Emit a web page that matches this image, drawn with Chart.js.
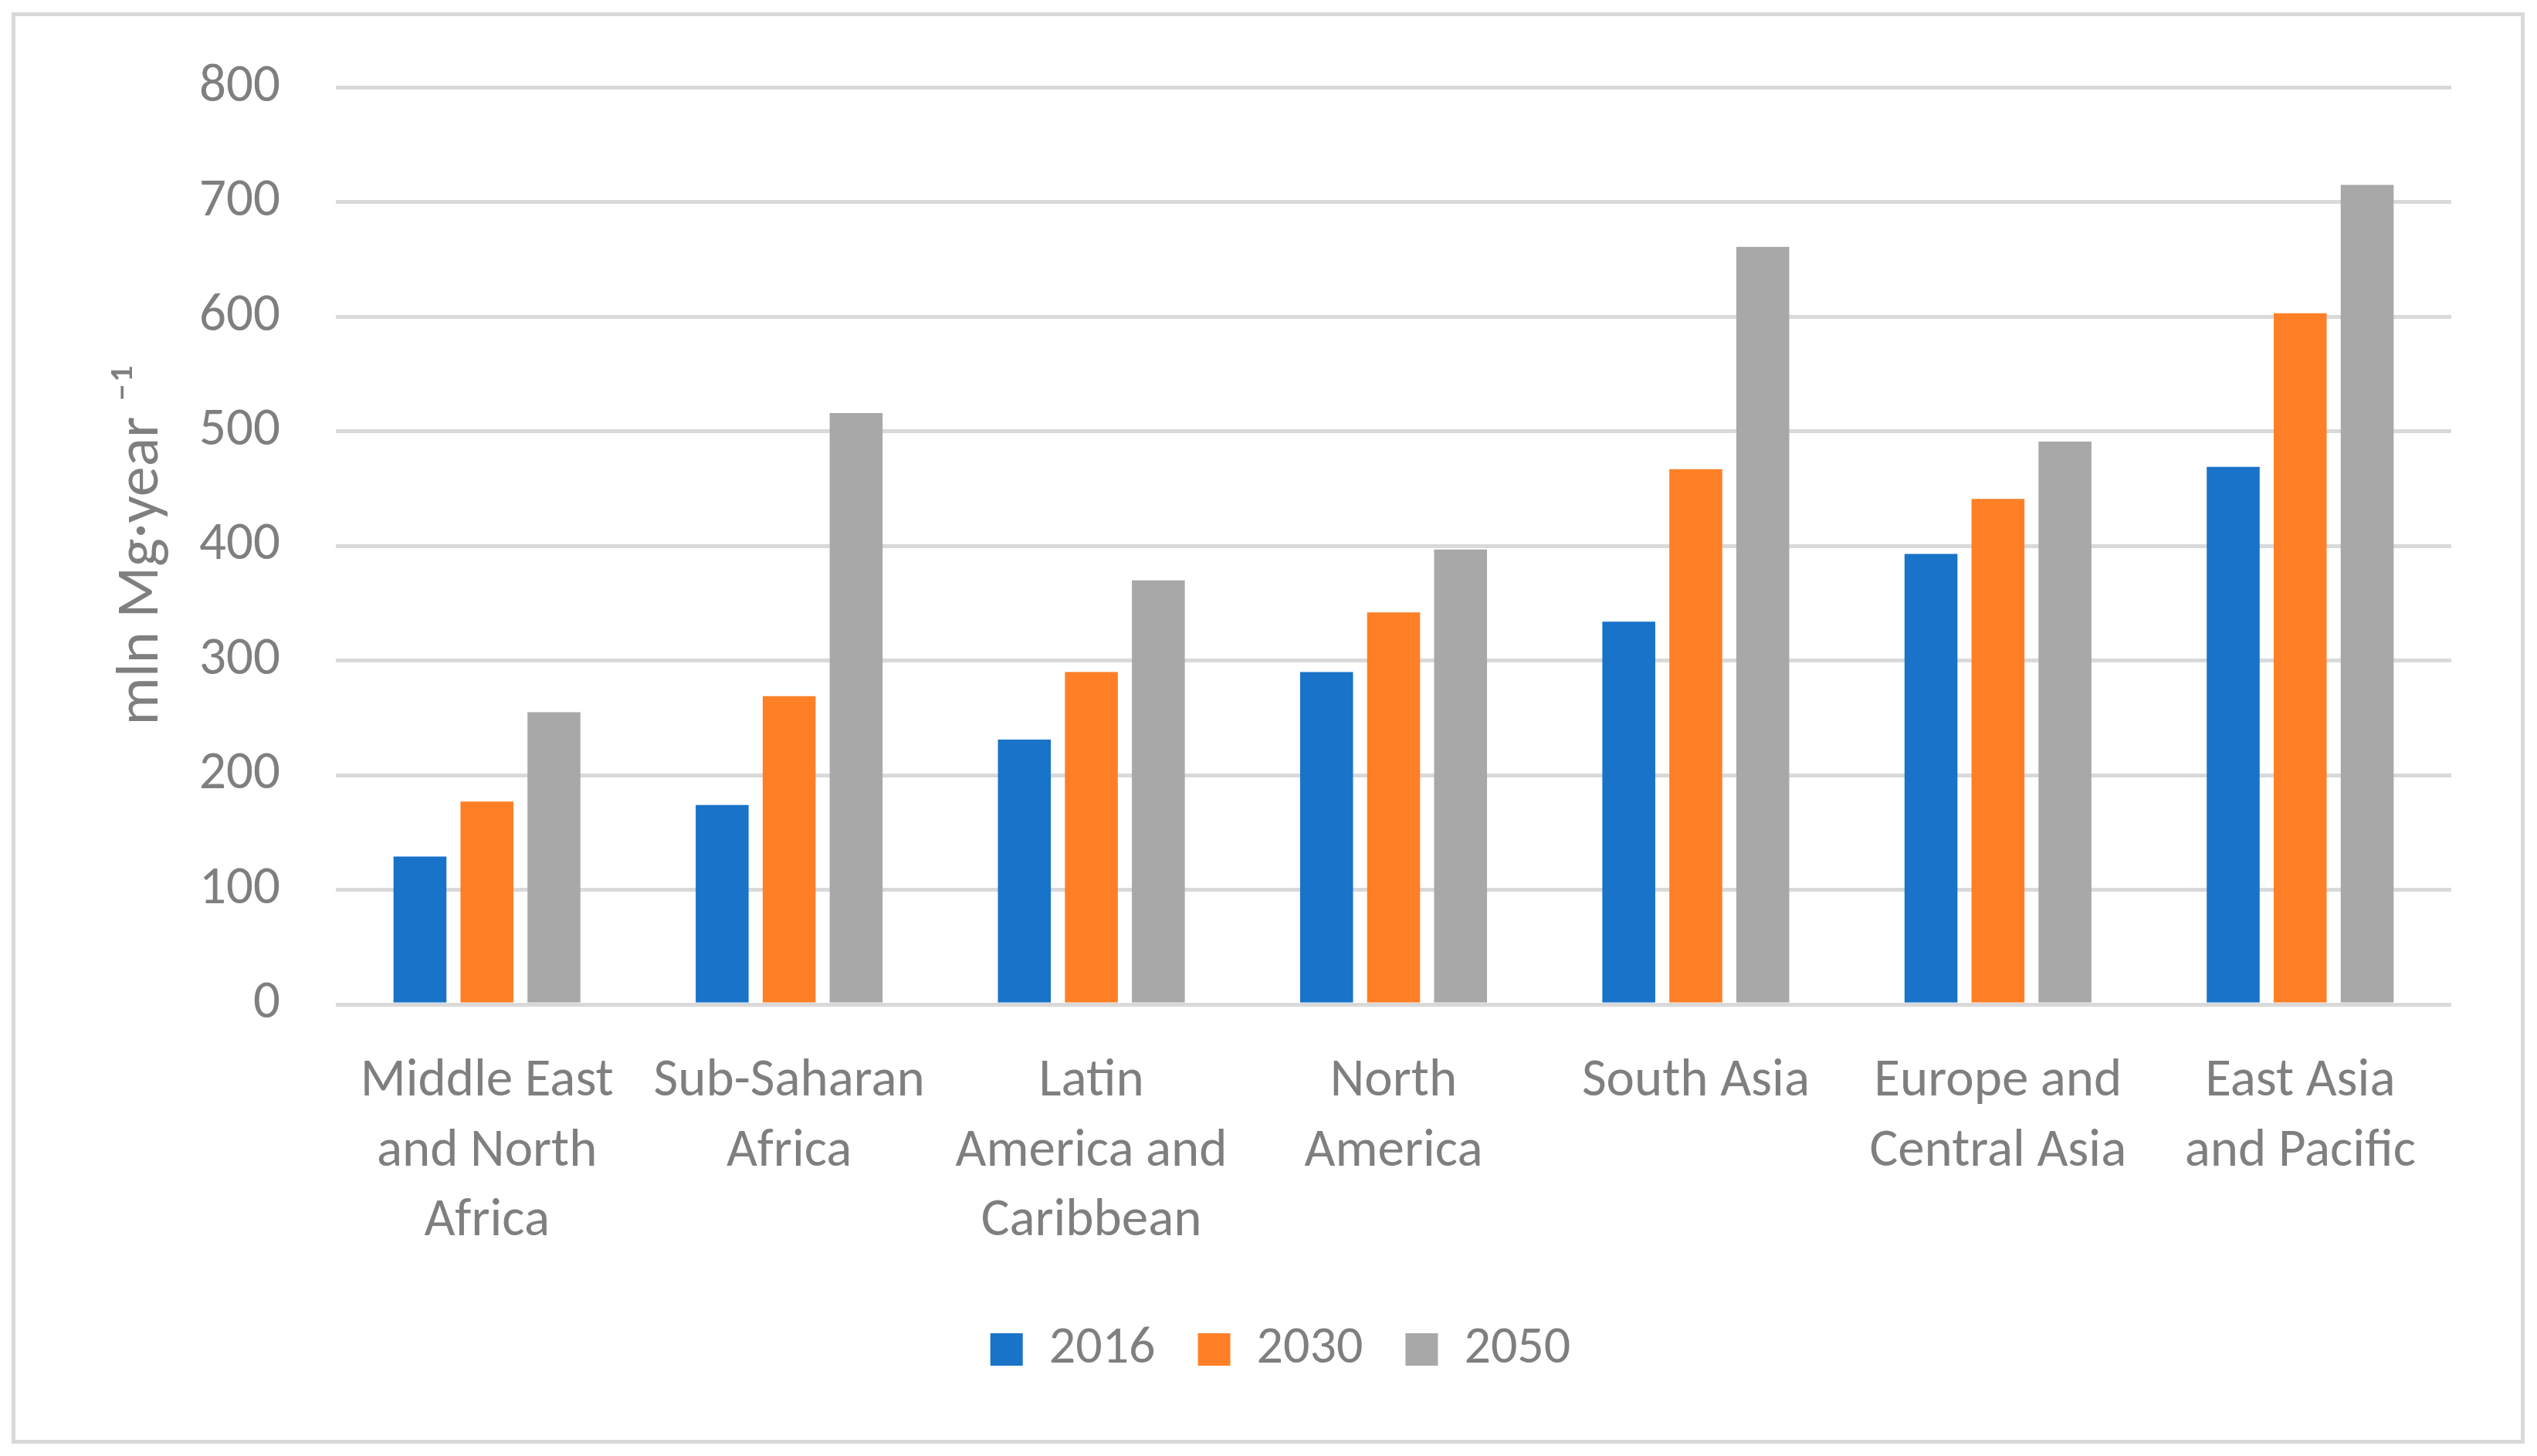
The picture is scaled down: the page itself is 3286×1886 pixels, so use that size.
<!DOCTYPE html>
<html>
<head>
<meta charset="utf-8">
<script src="https://cdn.jsdelivr.net/npm/chart.js@4.4.0/dist/chart.umd.min.js"></script>
<style>
  html, body { margin: 0; padding: 0; background: #fff; }
  #wrap { position: relative; width: 3286px; height: 1886px; }
  #frame { position: absolute; left: 15px; top: 16px; width: 3245px; height: 1844px; border: 5px solid #d9d9d9; pointer-events: none; }
</style>
</head>
<body>
<div id="wrap">
  <canvas id="waste-chart" width="3286" height="1886"></canvas>
  <div id="frame"></div>
</div>
<script>
var regions = [
  ["Middle East", "and North", "Africa"],
  ["Sub-Saharan", "Africa"],
  ["Latin", "America and", "Caribbean"],
  ["North", "America"],
  ["South Asia"],
  ["Europe and", "Central Asia"],
  ["East Asia", "and Pacific"]
];
var years = ["2016", "2030", "2050"];
var waste2016 = [129, 174, 231, 290, 334, 393, 469];
var waste2030 = [177, 269, 290, 342, 467, 441, 603];
var waste2050 = [255, 516, 370, 397, 661, 491, 715];
var yTicks = [0, 100, 200, 300, 400, 500, 600, 700, 800];

var colors = ["#1873c9", "#ff7f27", "#a8a8a8"];
var textColor = "#7f7f7f";
var fontFamily = "Carlito, Lato, sans-serif";

var series = [waste2016, waste2030, waste2050];

var ctx = document.getElementById("waste-chart").getContext("2d");
var chart = new Chart(ctx, {
  type: "bar",
  data: {
    labels: regions,
    datasets: series.map(function (vals, i) {
      return {
        label: years[i],
        data: vals,
        backgroundColor: colors[i],
        borderWidth: 0,
        categoryPercentage: 0.665,
        barPercentage: 0.79
      };
    })
  },
  options: {
    responsive: false,
    devicePixelRatio: 1,
    animation: false,
    layout: { padding: { left: 142, right: 111, top: 111, bottom: 94 } },
    plugins: {
      tooltip: { enabled: false },
      legend: {
        position: "bottom",
        labels: {
          color: textColor,
          font: { family: fontFamily, size: 68 },
          boxWidth: 42,
          boxHeight: 42,
          padding: 55
        }
      }
    },
    scales: {
      x: {
        grid: { display: false, drawTicks: false },
        border: { display: false },
        ticks: {
          color: textColor,
          font: { family: fontFamily, size: 69, lineHeight: 1.31 },
          maxRotation: 0,
          minRotation: 0,
          autoSkip: false,
          padding: 56
        },
        afterFit: function (scale) { scale.height = 358; }
      },
      y: {
        min: 0,
        max: 800,
        afterBuildTicks: function (scale) {
          scale.ticks = yTicks.map(function (v) { return { value: v }; });
        },
        grid: { color: "#d9d9d9", lineWidth: 5, drawTicks: false },
        border: { display: false },
        ticks: {
          color: textColor,
          font: { family: fontFamily, size: 69 },
          padding: 72
        },
        title: {
          display: true,
          text: "mln Mg·year ⁻¹",
          color: textColor,
          font: { family: fontFamily, size: 78, lineHeight: 1.08 },
          padding: { top: 0, bottom: 0 }
        },
        afterFit: function (scale) { scale.width = 293; }
      }
    }
  }
});
</script>
</body>
</html>
